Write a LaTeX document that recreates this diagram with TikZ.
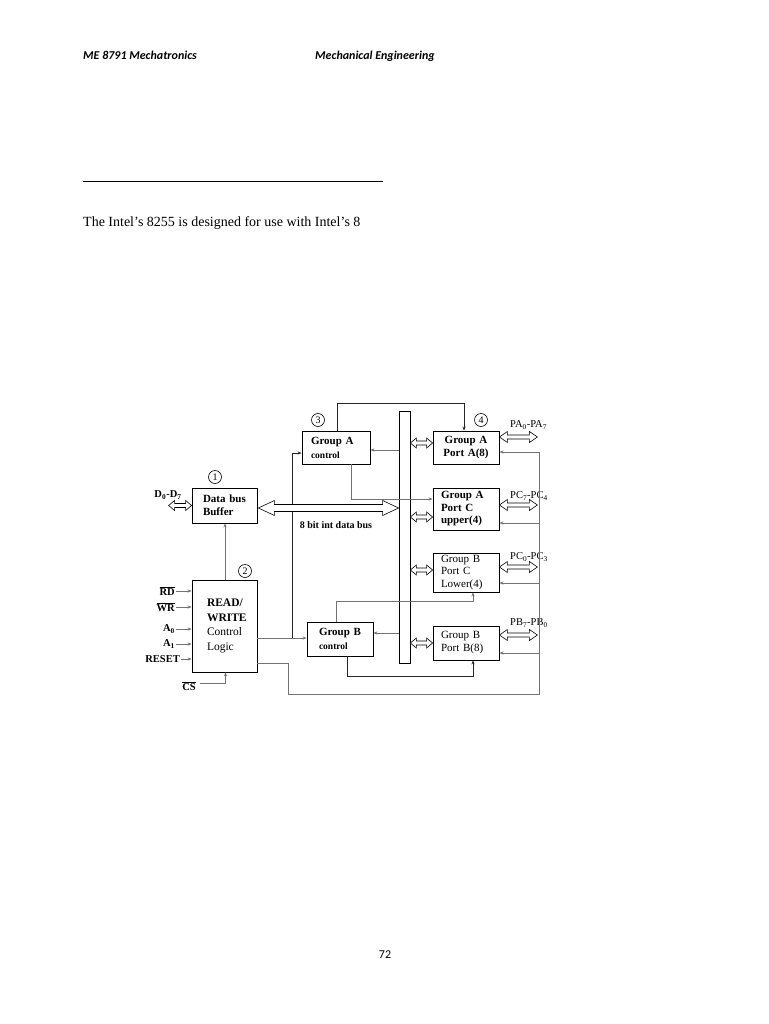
\documentclass[tikz,border=0pt]{standalone}
\usepackage{fontspec}
\setmainfont{Liberation Serif}
\newfontfamily\hdrfont{Carlito}
\usetikzlibrary{arrows.meta,calc}
\newcommand{\hdarrow}[5]{%
  \filldraw[fill=white,draw=black,line width=0.6pt] (#1) -- ($(#1)+(#5,-#4)$) -- ($(#1)+(#5,-#3)$) -- ($(#2)+(-#5,-#3)$) -- ($(#2)+(-#5,-#4)$) -- (#2) -- ($(#2)+(-#5,#4)$) -- ($(#2)+(-#5,#3)$) -- ($(#1)+(#5,#3)$) -- ($(#1)+(#5,#4)$) -- cycle;}
\begin{document}
\begin{tikzpicture}[x=1pt,y=-1pt,
  box/.style={draw=black,line width=0.8pt,inner ysep=0pt,align=left},
  conn/.style={draw=black!55,line width=0.7pt},
  dark/.style={draw=black!85,line width=0.8pt},
  tip/.style={-{Stealth[length=4pt,width=3.2pt]}},
  num/.style={circle,draw=black,line width=0.6pt,minimum size=13pt,inner sep=0pt,font=\fontsize{10}{10}\selectfont},
  sig/.style={anchor=east,inner sep=1pt,font=\fontsize{10.5}{12}\selectfont\bfseries},
  port/.style={anchor=west,inner sep=0pt,font=\fontsize{10.5}{12}\selectfont},
  f11b/.style={font=\fontsize{11}{13}\selectfont\bfseries},
]
\useasboundingbox[fill=white] (0,0) rectangle (768,1024);

% page text
\node[anchor=base west,inner sep=0pt,font=\hdrfont\bfseries\itshape\fontsize{12}{14}\selectfont] (h1) at (83,60) {ME 8791 Mechatronics};
\node[anchor=base west,inner sep=0pt,font=\hdrfont\bfseries\itshape\fontsize{12}{14}\selectfont] (h2) at (315,60) {Mechanical Engineering};
\draw[line width=0.8pt] (83,181) -- (383,181);
\node[anchor=base west,inner sep=0pt,font=\fontsize{14}{16}\selectfont] (intro) at (83,226) {The Intel’s 8255 is designed for use with Intel’s 8};
\node[anchor=base,inner sep=0pt,font=\hdrfont\fontsize{12}{14}\selectfont] (pg) at (385,958) {72};

% blocks
\node[box,f11b,minimum width=65pt,minimum height=35pt,inner xsep=11pt,text width=43pt] (dbb) at (224.5,505.5) {Data bus\\Buffer};
\node[box,minimum width=65pt,minimum height=92pt,inner xsep=15pt,text width=35pt,font=\fontsize{11.5}{14.5}\selectfont] (rw) at (224.5,626) {\textbf{READ/}\\\textbf{WRITE}\\Control\\Logic};
\node[box,minimum width=68pt,minimum height=33pt,inner xsep=9pt,text width=50pt,font=\fontsize{11}{14}\selectfont\bfseries] (gac) at (336,447.5) {Group A\\{\fontsize{9.5}{14}\selectfont control}};
\node[box,minimum width=66pt,minimum height=34pt,inner xsep=12pt,text width=42pt,font=\fontsize{11}{14}\selectfont\bfseries] (gbc) at (340,639) {Group B\\{\fontsize{9.5}{14}\selectfont control}};
\node[draw=black,line width=0.8pt,minimum width=11pt,minimum height=252pt,inner sep=0pt] (bar) at (404.5,537) {};
\node[box,align=center,minimum width=66pt,minimum height=33pt,inner xsep=2pt,text width=62pt,f11b] (pa) at (466,447.5) {Group A\\Port A(8)};
\node[box,minimum width=66pt,minimum height=42pt,inner xsep=8pt,text width=50pt,font=\fontsize{11}{12.5}\selectfont\bfseries] (pcu) at (466,509) {Group A\\Port C\\upper(4)};
\node[box,minimum width=66pt,minimum height=39pt,inner xsep=8pt,text width=50pt,font=\fontsize{11}{12.5}\selectfont] (pcl) at (466,572.5) {Group B\\Port C\\Lower(4)};
\node[box,minimum width=66pt,minimum height=34pt,inner xsep=8pt,text width=50pt,font=\fontsize{11}{13}\selectfont] (pb) at (466,643) {Group B\\Port B(8)};

% circled numbers
\node[num] (c1) at (215,477) {1};
\node[num] (c2) at (245,571) {2};
\node[num] (c3) at (318,420) {3};
\node[num] (c4) at (481,420) {4};

% labels
\node[inner sep=0pt,font=\fontsize{10.5}{12}\selectfont\bfseries] (dlab) at (168,495) {D\textsubscript{0}-D\textsubscript{7}};
\node[inner sep=0pt,font=\fontsize{10}{12}\selectfont\bfseries] (bus) at (336,525) {8 bit int data bus};
\node[sig] (rd) at (176,591) {$\overline{\mbox{RD}}$};
\node[sig] (wr) at (176,607) {$\overline{\mbox{WR}}$};
\node[sig] (a0) at (176,629) {A\textsubscript{0}};
\node[sig] (a1) at (176,644) {A\textsubscript{1}};
\node[sig] (reset) at (181,659) {RESET};
\node[sig] (cs) at (197,686) {$\overline{\mbox{CS}}$};
\node[port] (lpa) at (510,425) {PA\textsubscript{0}-PA\textsubscript{7}};
\node[port] (lpcu) at (510,496) {PC\textsubscript{7}-PC\textsubscript{4}};
\node[port] (lpcl) at (510,557) {PC\textsubscript{0}-PC\textsubscript{3}};
\node[port] (lpb) at (510,623) {PB\textsubscript{7}-PB\textsubscript{0}};

% input arrows
\draw[conn,tip] (rd.east) -- (rd.east -| rw.west);
\draw[conn,tip] (wr.east) -- (wr.east -| rw.west);
\draw[conn,tip] (a0.east) -- (a0.east -| rw.west);
\draw[conn,tip] (a1.east) -- (a1.east -| rw.west);
\draw[conn,tip] (reset.east) -- (reset.east -| rw.west);
\draw[conn,tip] ([xshift=3pt,yshift=3pt]cs.east) -| ([xshift=1pt]rw.south);
\draw[conn,tip] ([xshift=0.5pt]rw.north) -- ([xshift=0.5pt]dbb.south);

% control connectors
\draw[dark,tip] ([xshift=1pt]gac.north) -- ++(0,-27) -| ([xshift=-2pt]pa.north);
\coordinate (gacE) at ([yshift=-2.5pt]gac.east);
\draw[conn,tip] (gacE -| bar.west) -- (gacE);
\coordinate (pcuW) at ([yshift=10pt]pcu.west);
\draw[conn,tip] ([xshift=15pt]gac.south) |- (pcuW);
\coordinate (rwE1) at ([yshift=-12pt]rw.east);
\draw[conn,tip] (rwE1) -- (rwE1 -| gbc.west);
\coordinate (br) at ([xshift=35pt]rwE1);
\coordinate (gacW) at ([yshift=-5.5pt]gac.west);
\draw[dark,tip] (br) |- (gacW);
\coordinate (gbcE) at ([yshift=6pt]gbc.east);
\draw[conn,tip] (gbcE -| bar.west) -- (gbcE);
\coordinate (pclS) at ([xshift=7pt]pcl.south);
\draw[conn,tip] ([xshift=-4pt]gbc.north) -- ++(0,-20) -| (pclS);
\coordinate (pbS) at ([xshift=7pt]pb.south);
\draw[dark,tip] ([xshift=7pt]gbc.south) -- ++(0,20) -| (pbS);

% right feedback line
\coordinate (rwE2) at ([yshift=-37pt]rw.east);
\coordinate (rtop) at ([xshift=40pt,yshift=-4.5pt]pa.east);
\coordinate (rbot) at ([yshift=-242pt]rtop);
\draw[conn] (rwE2) -- ++(31,0) |- (rbot) -- (rtop);
\draw[conn,tip] (rtop) -- (rtop -| pa.east);
\coordinate (r2) at ([yshift=-14pt]pcu.east);
\draw[conn,tip] (r2 -| rtop) -- (r2);
\coordinate (r3) at ([yshift=-10.5pt]pcl.east);
\draw[conn,tip] (r3 -| rtop) -- (r3);
\coordinate (r4) at ([yshift=-10pt]pb.east);
\draw[conn,tip] (r4 -| rtop) -- (r4);

% hollow double arrows
\coordinate (dL) at ([xshift=-23pt]dbb.west);
\hdarrow{dL}{dbb.west}{2}{5}{6}
\coordinate (bigL) at ([xshift=1pt,yshift=-2.5pt]dbb.east);
\coordinate (bigR) at (bigL -| bar.west);
\hdarrow{bigL}{bigR}{3.5}{7.5}{16}
\coordinate (pa1) at ([yshift=4.5pt]pa.west);
\coordinate (pa0) at (pa1 -| bar.east);
\hdarrow{pa0}{pa1}{2}{5}{6}
\coordinate (pcu1) at ([yshift=-8pt]pcu.west);
\coordinate (pcu0) at (pcu1 -| bar.east);
\hdarrow{pcu0}{pcu1}{2}{5}{6}
\coordinate (pcl1) at ([yshift=2.5pt]pcl.west);
\coordinate (pcl0) at (pcl1 -| bar.east);
\hdarrow{pcl0}{pcl1}{2}{5}{6}
\coordinate (pb1) at (pb.west);
\coordinate (pb0) at (pb1 -| bar.east);
\hdarrow{pb0}{pb1}{2}{5}{6}
\coordinate (pao0) at ([yshift=10.5pt]pa.east);
\coordinate (pao1) at ([xshift=38pt,yshift=10.5pt]pa.east);
\hdarrow{pao0}{pao1}{2}{5.5}{8}
\coordinate (pcuo0) at ([yshift=4pt]pcu.east);
\coordinate (pcuo1) at ([xshift=38pt,yshift=4pt]pcu.east);
\hdarrow{pcuo0}{pcuo1}{2}{5.5}{8}
\coordinate (pclo0) at ([yshift=5.5pt]pcl.east);
\coordinate (pclo1) at ([xshift=38pt,yshift=5.5pt]pcl.east);
\hdarrow{pclo0}{pclo1}{2}{5.5}{8}
\coordinate (pbo0) at ([yshift=8pt]pb.east);
\coordinate (pbo1) at ([xshift=38pt,yshift=8pt]pb.east);
\hdarrow{pbo0}{pbo1}{2}{5.5}{8}
\end{tikzpicture}
\end{document}
